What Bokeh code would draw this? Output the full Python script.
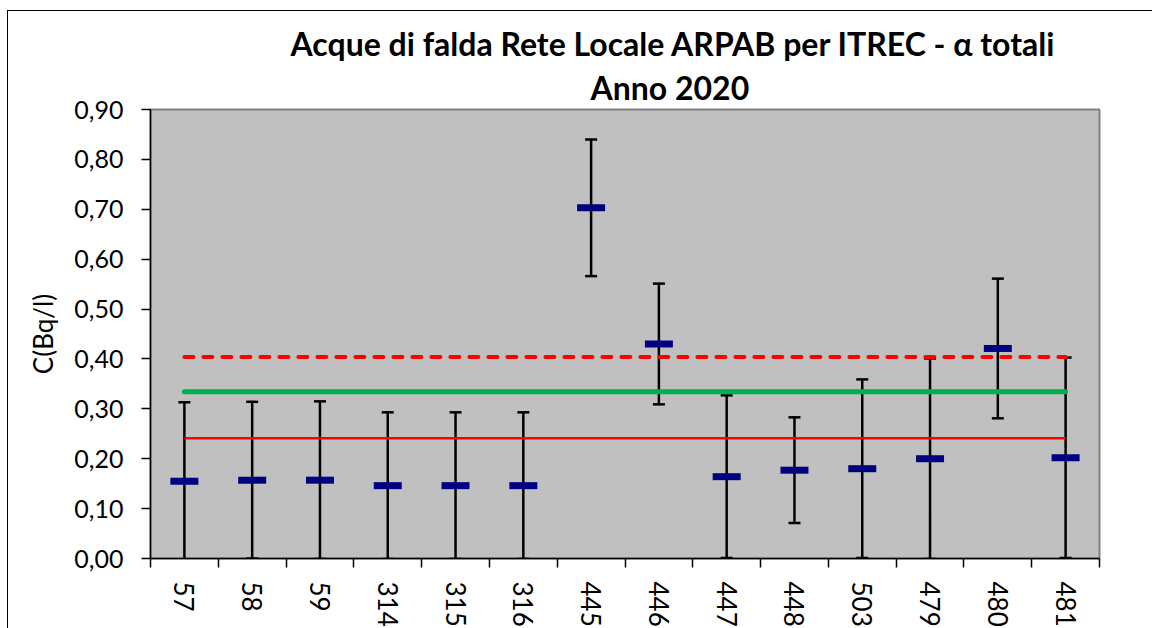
from bokeh.plotting import figure
from bokeh.models import Range1d, FixedTicker, LinearAxis, Whisker, TeeHead, ColumnDataSource, Title
from bokeh.embed import file_html
from bokeh.resources import INLINE

# ---- data ----
categories = ["57", "58", "59", "314", "315", "316", "445", "446", "447", "448", "503", "479", "480", "481"]
values = [0.155, 0.157, 0.157, 0.146, 0.146, 0.146, 0.703, 0.430, 0.164, 0.177, 0.180, 0.200, 0.421, 0.202]
errors = [0.158, 0.157, 0.158, 0.147, 0.147, 0.147, 0.137, 0.121, 0.163, 0.106, 0.179, 0.201, 0.140, 0.201]
level_red_dashed = 0.404
level_green = 0.334
level_red = 0.241
y_ticks = [0.0, 0.1, 0.2, 0.3, 0.4, 0.5, 0.6, 0.7, 0.8, 0.9]
y_tick_labels = ["0,00", "0,10", "0,20", "0,30", "0,40", "0,50", "0,60", "0,70", "0,80", "0,90"]
title_line1 = "Acque di falda Rete Locale ARPAB per ITREC - α totali"
title_line2 = "Anno 2020"
y_label = "C(Bq/l)"

n = len(categories)
positions = [i + 0.5 for i in range(n)]
boundaries = list(range(n + 1))

src = ColumnDataSource(dict(
    x=positions,
    y=values,
    upper=[v + e for v, e in zip(values, errors)],
    lower=[v - e for v, e in zip(values, errors)],
))

FONT = "Lato"

p = figure(width=1145, height=618, output_backend="svg", toolbar_location=None,
           x_range=Range1d(0, n), y_range=Range1d(0, 0.9),
           x_axis_type=None, y_axis_type=None,
           min_border_left=142, min_border_right=54, min_border_top=98, min_border_bottom=69)
p.background_fill_color = "#C0C0C0"
p.border_fill_color = "white"
p.outline_line_color = "#808080"
p.outline_line_width = 2
p.grid.visible = False
p.styles = {"border-top": "1.5px solid black", "border-left": "1.5px solid black",
            "margin-left": "7px", "margin-top": "10px"}

# y axis
yax = LinearAxis(ticker=FixedTicker(ticks=y_ticks, minor_ticks=[]),
                 major_label_overrides={t: l for t, l in zip(y_ticks, y_tick_labels)})
yax.axis_label = y_label
yax.axis_label_text_font = FONT
yax.axis_label_text_font_size = "26px"
yax.axis_label_text_font_style = "normal"
yax.axis_label_text_color = "black"
yax.axis_label_standoff = 12
yax.major_label_text_font = FONT
yax.major_label_text_font_size = "25px"
yax.major_label_text_color = "black"
yax.major_label_standoff = 18
yax.major_tick_out = 9
yax.major_tick_in = 0
yax.minor_tick_out = 0
yax.axis_line_color = "black"
yax.axis_line_width = 1.5
yax.major_tick_line_color = "black"
yax.major_tick_line_width = 1.5
p.add_layout(yax, "left")

# x axis: labels at category centres, tick marks at boundaries
xax = LinearAxis(ticker=FixedTicker(ticks=positions, minor_ticks=boundaries),
                 major_label_overrides={pos: c for pos, c in zip(positions, categories)})
xax.major_label_orientation = "vertical"
xax.major_label_text_font = FONT
xax.major_label_text_font_size = "26px"
xax.major_label_text_color = "black"
xax.major_label_standoff = 14
xax.major_tick_out = 0
xax.major_tick_in = 0
xax.minor_tick_out = 9
xax.minor_tick_in = 0
xax.minor_tick_line_color = "black"
xax.minor_tick_line_width = 1.5
xax.axis_line_color = "black"
xax.axis_line_width = 1.5
p.add_layout(xax, "below")

# error bars
wh = Whisker(base="x", upper="upper", lower="lower", source=src,
             line_color="black", line_width=2.5,
             upper_head=TeeHead(size=12, line_width=2.5, line_color="black"),
             lower_head=TeeHead(size=12, line_width=2.5, line_color="black"))
wh.level = "underlay"
p.add_layout(wh)

# reference lines
p.line(positions, [level_red] * n, line_color="#FF0000", line_width=2.5)
p.line(positions, [level_green] * n, line_color="#00B050", line_width=5, line_cap="round")
p.line(positions, [level_red_dashed] * n, line_color="#FF0000", line_width=4,
       line_dash="9 10", line_cap="round")

# mean markers
p.rect(x="x", y="y", width=28, height=7, width_units="screen", height_units="screen",
       fill_color="#000080", line_color=None, source=src)

# titles
t2 = Title(text=title_line2, align="left", text_font=FONT, text_font_size="32px",
           text_font_style="bold", text_color="black", offset=440, standoff=5)
t1 = Title(text=title_line1, align="left", text_font=FONT, text_font_size="32px",
           text_font_style="bold", text_color="black", offset=140, standoff=2)
p.add_layout(t2, "above")
p.add_layout(t1, "above")

open("out.html", "w").write(file_html(p, INLINE))
